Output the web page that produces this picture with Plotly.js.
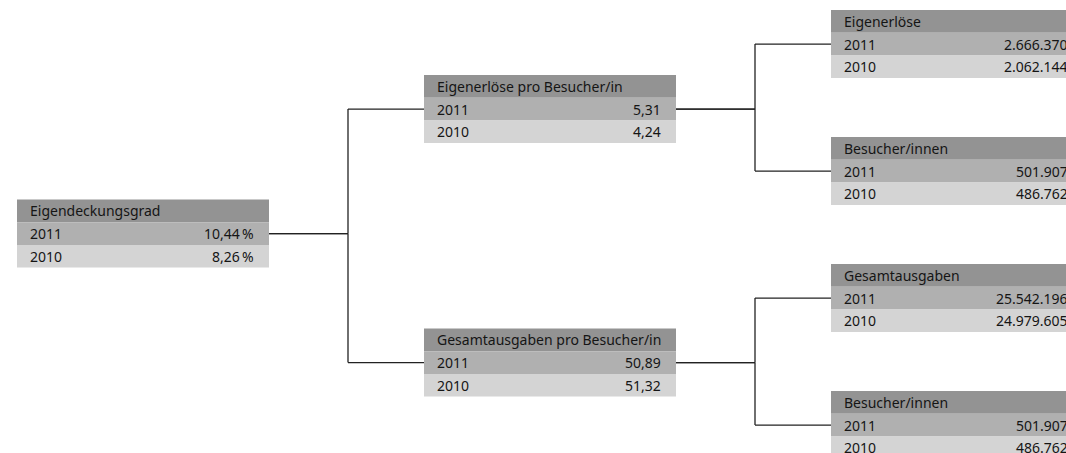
<!DOCTYPE html>
<html>
<head>
<meta charset="utf-8">
<script src="https://cdn.plot.ly/plotly-3.0.1.min.js"></script>
<style>
  html, body { margin: 0; padding: 0; background: #ffffff; overflow: hidden; }
  #wrap { width: 1066px; height: 453px; overflow: hidden; position: relative; }
  #chart { width: 1100px; height: 453px; }
</style>
</head>
<body>
<div id="wrap"><div id="chart"></div></div>
<script>
// ---------------- DATA ----------------
const years = ['2011', '2010'];
const nodeTitles = [
  'Eigendeckungsgrad',
  'Eigenerlöse pro Besucher/in',
  'Gesamtausgaben pro Besucher/in',
  'Eigenerlöse',
  'Besucher/innen',
  'Gesamtausgaben',
  'Besucher/innen'
];
const values2011 = [10.44, 5.31, 50.89, 2666370, 501907, 25542196, 501907];
const values2010 = [8.26, 4.24, 51.32, 2062144, 486762, 24979605, 486762];
const decimals   = [2, 2, 2, 0, 0, 0, 0];
const units      = ['\u2009%', '', '', '', '', '', ''];
const parents    = [-1, 0, 0, 1, 1, 2, 2];

// ---------------- LAYOUT (positions & styles) ----------------
const W = 1100, H = 453;      // drawing is wider than the window; the window crops it at 1066
const boxLeft = [17, 424, 424, 831, 831, 831, 831];
const boxTop  = [199.5, 75, 328.5, 10, 137, 264, 391];
const boxWidth = 252;
const rowH = 22.7;
const elbowGap = 79;
const padL = 11, padR = 13;
const colHeader = '#939393', col2011 = '#b0b0b0', col2010 = '#d4d4d4';
const textColor = '#151515', lineColor = '#222222';
const fontFamily = '"Noto Sans", "Open Sans", sans-serif';
const fontSize = 14;

function fmt(v, d) {
  const parts = v.toFixed(d).split('.');
  const intPart = parts[0].replace(/\B(?=(\d{3})+(?!\d))/g, '.');
  return parts.length > 1 ? intPart + ',' + parts[1] : intPart;
}

const shapes = [];
const annotations = [];

nodeTitles.forEach((title, i) => {
  const x0 = boxLeft[i], x1 = x0 + boxWidth, y0 = boxTop[i];
  const rowColors = [colHeader, col2011, col2010];
  rowColors.forEach((c, r) => {
    shapes.push({
      type: 'rect', xref: 'x', yref: 'y',
      x0: x0, x1: x1, y0: y0 + r * rowH, y1: y0 + (r + 1) * rowH,
      fillcolor: c, line: { width: 0 }, layer: 'below'
    });
  });
  const rowTexts = [
    [title, null],
    [years[0], fmt(values2011[i], decimals[i]) + units[i]],
    [years[1], fmt(values2010[i], decimals[i]) + units[i]]
  ];
  rowTexts.forEach((rt, r) => {
    const yc = y0 + (r + 0.5) * rowH;
    annotations.push({
      xref: 'x', yref: 'y', x: x0 + padL, y: yc, text: rt[0],
      xanchor: 'left', yanchor: 'middle', showarrow: false,
      font: { family: fontFamily, size: fontSize, color: textColor }
    });
    if (rt[1] !== null) {
      annotations.push({
        xref: 'x', yref: 'y', x: x1 - padR, y: yc, text: rt[1],
        xanchor: 'right', yanchor: 'middle', showarrow: false,
        font: { family: fontFamily, size: fontSize, color: textColor }
      });
    }
  });
});

// connectors (elbow lines) from parent 2011-row to child 2011-row
const lineStyle = { color: lineColor, width: 1.3 };
nodeTitles.forEach((_, i) => {
  const p = parents[i];
  if (p < 0) return;
  const px = boxLeft[p] + boxWidth;
  const py = boxTop[p] + 1.5 * rowH;
  const cx = boxLeft[i];
  const cy = boxTop[i] + 1.5 * rowH;
  const mx = px + elbowGap;
  shapes.push({ type: 'line', xref: 'x', yref: 'y', x0: px, x1: mx, y0: py, y1: py, line: lineStyle });
  shapes.push({ type: 'line', xref: 'x', yref: 'y', x0: mx, x1: mx, y0: py, y1: cy, line: lineStyle });
  shapes.push({ type: 'line', xref: 'x', yref: 'y', x0: mx, x1: cx, y0: cy, y1: cy, line: lineStyle });
});

const layout = {
  width: W, height: H,
  margin: { l: 0, r: 0, t: 0, b: 0, pad: 0 },
  paper_bgcolor: '#ffffff', plot_bgcolor: '#ffffff',
  xaxis: { range: [0, W], visible: false, fixedrange: true },
  yaxis: { range: [H, 0], visible: false, fixedrange: true },
  showlegend: false,
  shapes: shapes,
  annotations: annotations
};

Plotly.newPlot('chart', [{ x: [], y: [], type: 'scatter', hoverinfo: 'skip' }], layout, { displayModeBar: false, staticPlot: true });
</script>
</body>
</html>
